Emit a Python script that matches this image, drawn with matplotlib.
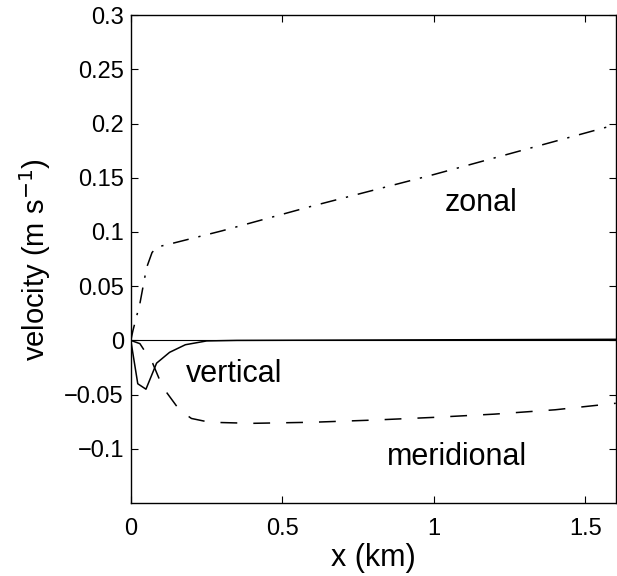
import matplotlib
matplotlib.use("Agg")
import matplotlib.pyplot as plt
import numpy as np

plt.rcParams['font.family'] = ['Liberation Sans', 'DejaVu Sans']

# zonal (dash-dot)
zonal_x = [0, 0.007, 0.03, 0.052, 0.07, 0.085, 0.13, 0.3, 0.6, 1.0, 1.3, 1.6]
zonal_y = [0, 0.009, 0.034, 0.067, 0.081, 0.086, 0.089, 0.101, 0.124, 0.153, 0.176, 0.199]

# meridional (dashed)
merid_x = [0, 0.03, 0.072, 0.105, 0.16, 0.2, 0.26, 0.4, 0.6, 0.8, 1.0, 1.2, 1.4, 1.6]
merid_y = [0, -0.003, -0.021, -0.043, -0.064, -0.072, -0.0755, -0.0765, -0.0755, -0.0735, -0.071, -0.068, -0.064, -0.058]

# vertical (solid)
vert_x = [0, 0.023, 0.05, 0.085, 0.128, 0.18, 0.25, 0.35, 1.6]
vert_y = [0, -0.04, -0.045, -0.021, -0.011, -0.004, -0.0005, 0.0, 0.001]

fig = plt.figure(figsize=(6.17, 5.76), dpi=100)
ax = fig.add_axes([0.212, 0.1267, 0.786, 0.847])

ax.axhline(0, color='k', lw=0.8)
ax.plot(zonal_x, zonal_y, color='k', lw=1.1, dashes=(10.5, 6.5, 1.5, 6.5))
ax.plot(merid_x, merid_y, color='k', lw=1.1, dashes=(11, 10.5))
ax.plot(vert_x, vert_y, color='k', lw=1.1)

ax.text(1.156, 0.127, "zonal", fontsize=22, ha='center', va='center')
ax.text(0.34, -0.031, "vertical", fontsize=22, ha='center', va='center')
ax.text(1.076, -0.108, "meridional", fontsize=22, ha='center', va='center')

ax.set_xlim(0, 1.6)
ax.set_ylim(-0.15, 0.3)
ax.set_xticks([0, 0.5, 1, 1.5])
ax.set_xticklabels(["0", "0.5", "1", "1.5"])
ax.set_yticks([-0.1, -0.05, 0, 0.05, 0.1, 0.15, 0.2, 0.25, 0.3])
ax.set_yticklabels(["\u22120.1", "\u22120.05", "0", "0.05", "0.1", "0.15", "0.2", "0.25", "0.3"])
ax.tick_params(direction='in', top=True, right=True, labelsize=17, length=5)
ax.tick_params(axis='y', pad=5)
ax.tick_params(axis='x', pad=11)
for s in ax.spines.values():
    s.set_linewidth(1.0)

ax.set_xlabel("x (km)", fontsize=22, labelpad=2)
ax.set_ylabel("velocity (m s$^{-1}$)", fontsize=21, labelpad=8)

plt.savefig("out.png", dpi=100)
